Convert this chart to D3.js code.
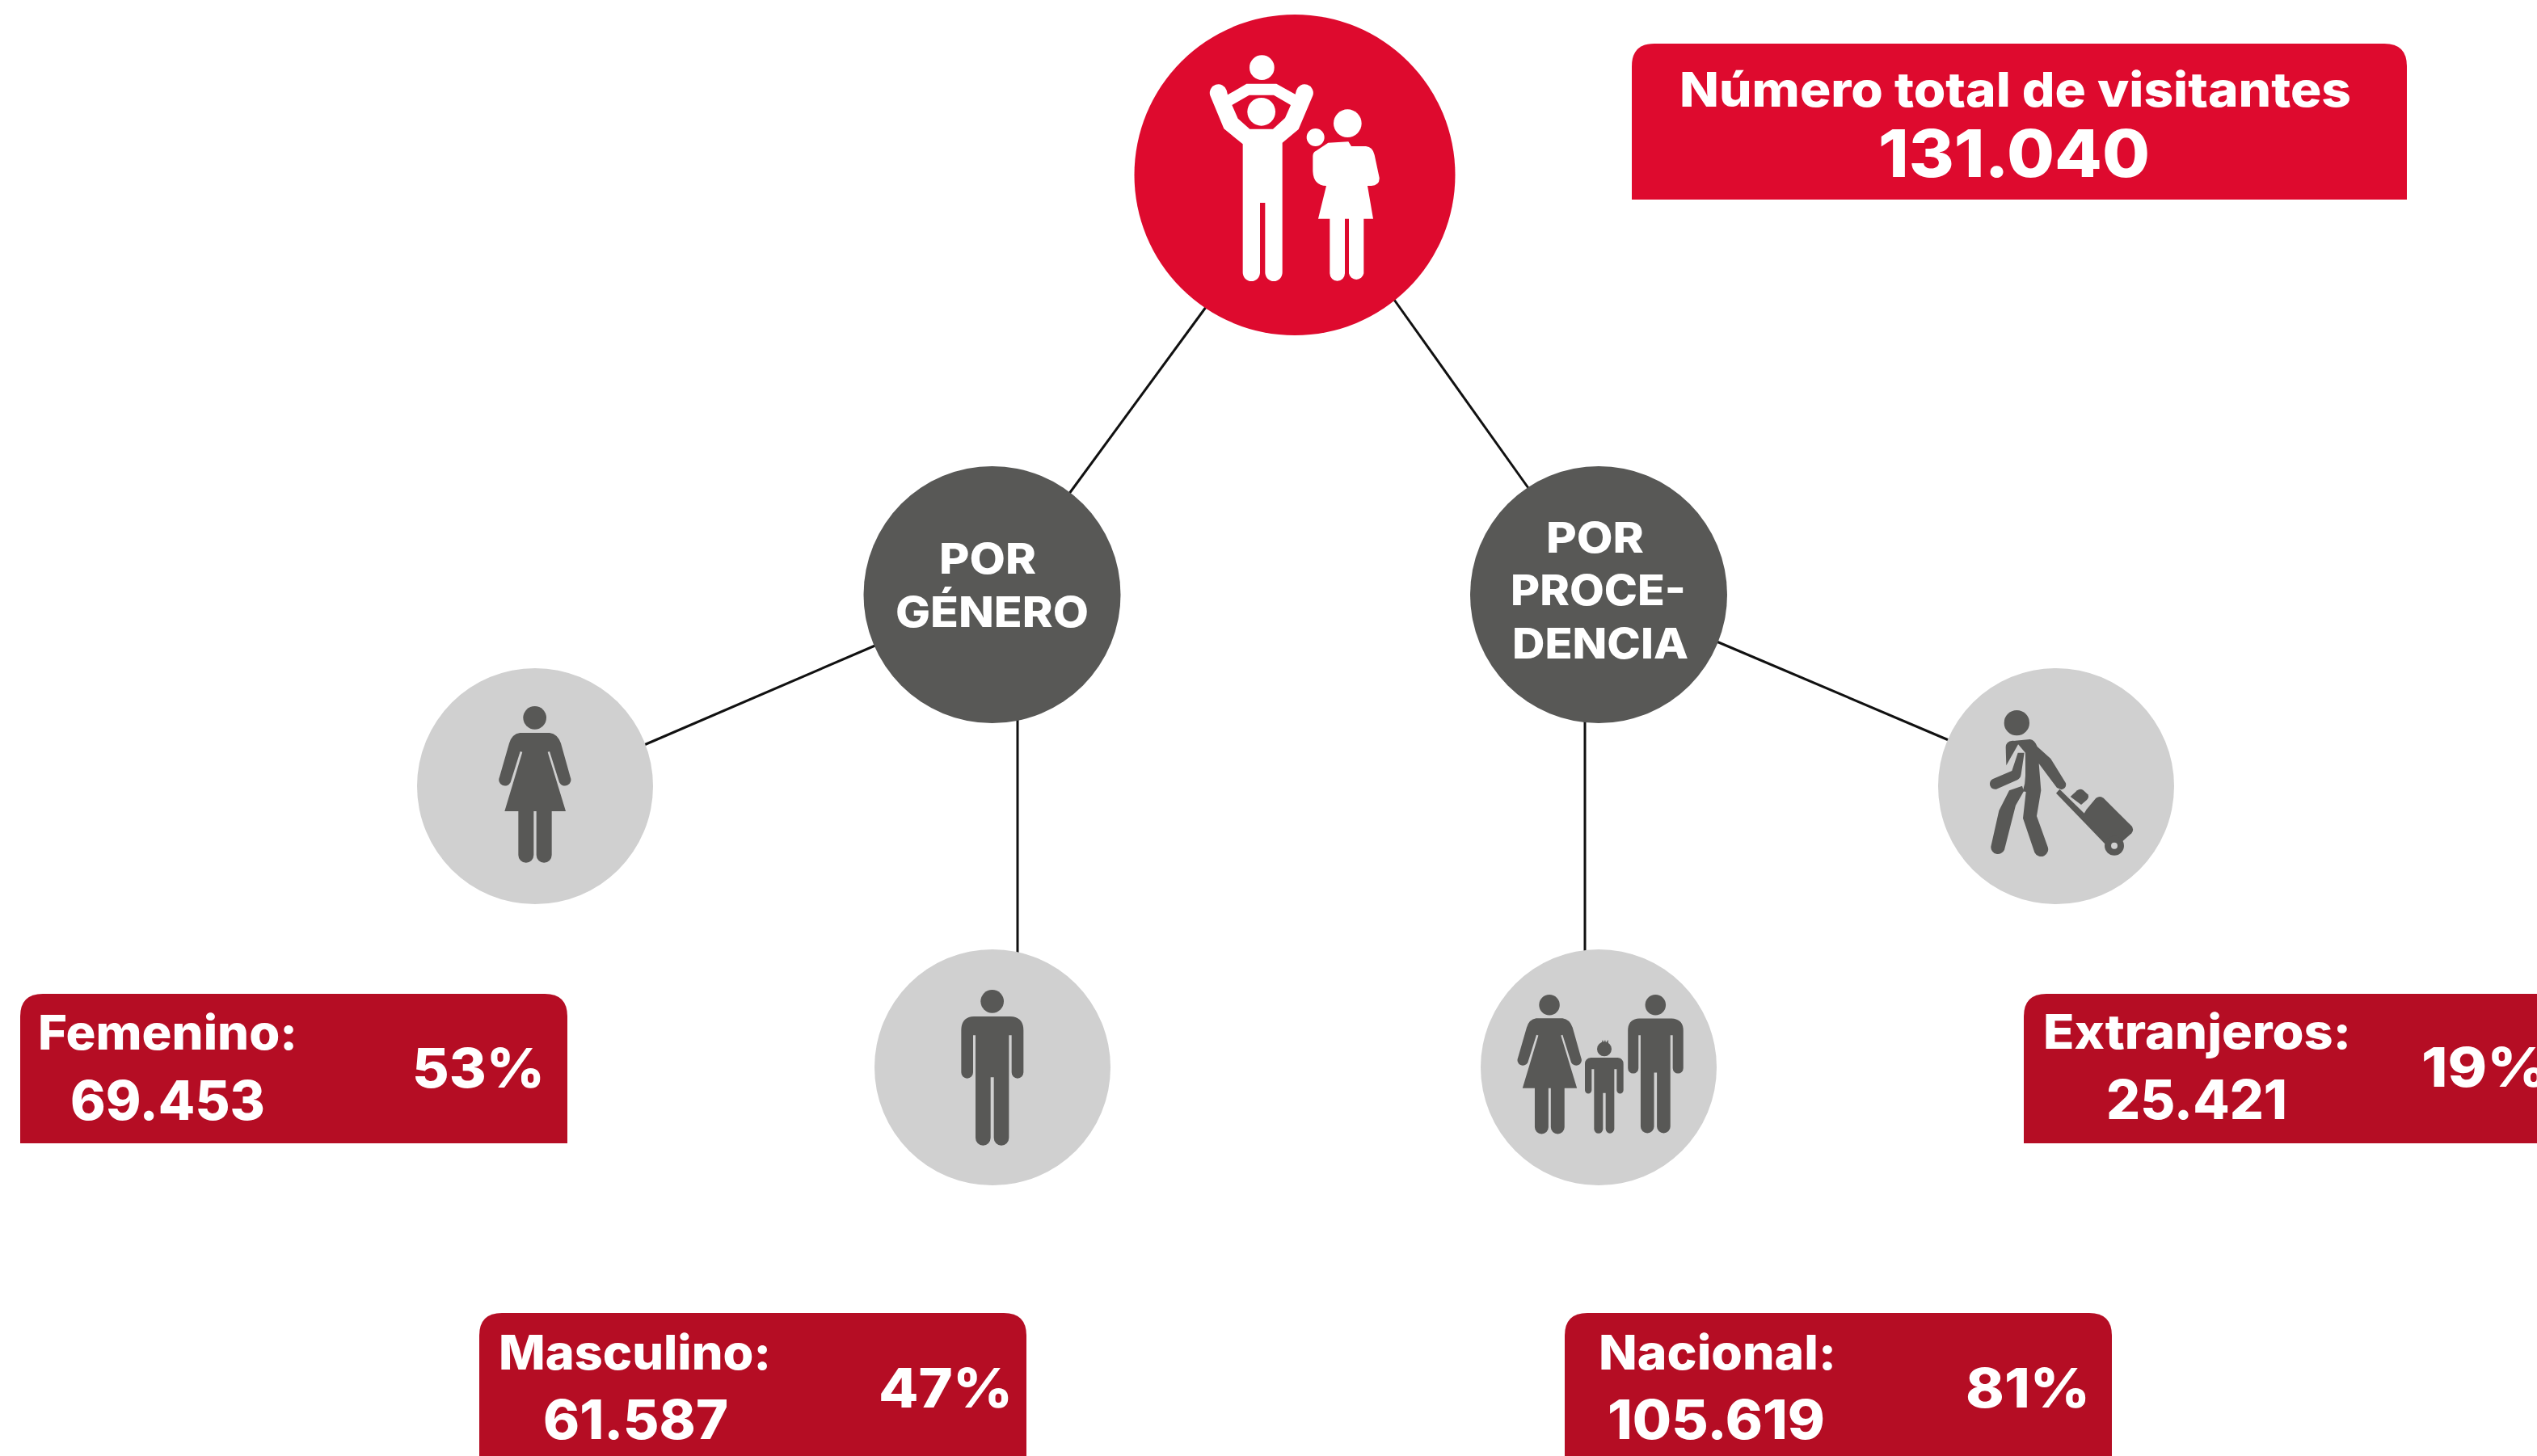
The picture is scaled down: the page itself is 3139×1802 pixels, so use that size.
<!DOCTYPE html>
<html>
<head>
<meta charset="utf-8">
<script src="https://cdn.jsdelivr.net/npm/d3@7"></script>
<style>
  html, body { margin: 0; padding: 0; background: #fff; overflow: hidden; }
  svg { display: block; }
  text { font-family: Inter, "Open Sans", sans-serif; font-weight: 800; fill: #fff; }
</style>
</head>
<body>
<svg class="svg-chart" width="3139" height="1802"></svg>
<script>
// values
const totalTitle = "Número total de visitantes";
const totalVisitors = 131040;
const branches = [["POR", "GÉNERO"], ["POR", "PROCE-", "DENCIA"]];
const categories = ["Femenino", "Masculino", "Nacional", "Extranjeros"];
const visitors = [69453, 61587, 105619, 25421];
const percents = [53, 47, 81, 19];

const esFormat = d3.formatLocale({ decimal: ",", thousands: ".", grouping: [3], currency: ["", "€"] }).format(",d");

const red = "#de0a2e", darkRed = "#b50d24", dark = "#585856", light = "#d0d0d0";

const W = 3139, H = 1802;
const svg = d3.select(".svg-chart").attr("viewBox", "0 0 " + W + " " + H);

// layout: node ids to centre positions
const nodeIds = ["top", "genero", "procedencia"].concat(categories);
const xNode = d3.scaleOrdinal(nodeIds, [1602, 1227.5, 1978, 662, 1228, 1978, 2544]);
const yNode = d3.scaleOrdinal(nodeIds, [216.5, 736, 736, 973, 1321, 1321, 973]);
const rNode = d3.scaleOrdinal(nodeIds, [198.5, 159, 159, 146, 146, 146, 146]);
const fillNode = d3.scaleOrdinal(nodeIds, [red, dark, dark, light, light, light, light]);

// connectors run slightly under the circles
const connectors = [
  [[1498, 372], [1317, 619]],
  [[1720, 364], [1896, 611]],
  [[1092, 795], [790, 925]],
  [[1259, 885], [1259, 1185]],
  [[1961, 885], [1961, 1185]],
  [[2117, 791], [2418, 919]]
];

svg.append("g")
  .selectAll("path")
  .data(connectors)
  .enter()
  .append("path")
  .attr("d", d3.line())
  .attr("stroke", "#111")
  .attr("stroke-width", 3)
  .attr("fill", "none");

svg.append("g")
  .selectAll("circle")
  .data(nodeIds)
  .enter()
  .append("circle")
  .attr("cx", (d) => xNode(d))
  .attr("cy", (d) => yNode(d))
  .attr("r", (d) => rNode(d))
  .attr("fill", (d) => fillNode(d));

// boxes with rounded top corners
function topRounded(x0, y0, x1, y1, r) {
  const p = d3.path();
  p.moveTo(x0, y1);
  p.lineTo(x0, y0 + r);
  p.quadraticCurveTo(x0, y0, x0 + r, y0);
  p.lineTo(x1 - r, y0);
  p.quadraticCurveTo(x1, y0, x1, y0 + r);
  p.lineTo(x1, y1);
  p.closePath();
  return p.toString();
}

const boxX0 = d3.scaleOrdinal(categories, [25, 593, 1936, 2504]);
const boxX1 = d3.scaleOrdinal(categories, [702, 1270, 2613, 3181]);
const boxY0 = d3.scaleOrdinal(categories, [1230, 1625, 1625, 1230]);
const boxY1 = d3.scaleOrdinal(categories, [1415, 1810, 1810, 1415]);

svg.append("path")
  .attr("d", topRounded(2019, 54, 2978, 247, 28))
  .attr("fill", red);

svg.append("g")
  .selectAll("path")
  .data(categories)
  .enter()
  .append("path")
  .attr("d", (d) => topRounded(boxX0(d), boxY0(d), boxX1(d), boxY1(d), 28))
  .attr("fill", darkRed);

// text helper: left edge, right edge, baseline, size (spans widened for side bearings)
function label(str, x0, x1, y, size) {
  svg.append("text")
    .attr("x", x0 - 3)
    .attr("y", y)
    .attr("font-size", size)
    .attr("textLength", x1 - x0 + 6)
    .attr("lengthAdjust", "spacingAndGlyphs")
    .text(str);
}

label(totalTitle, 2081, 2906, 132, 59);
label(esFormat(totalVisitors), 2327, 2657, 219, 81);

label(branches[0][0], 1165, 1279, 710, 52);
label(branches[0][1], 1111, 1344, 776, 52);
label(branches[1][0], 1916, 2031, 684, 52);
label(branches[1][1], 1872, 2083, 749, 52);
label(branches[1][2], 1874, 2086, 815, 52);

const nameSpan = [[50, 365, 1299], [620, 951, 1695], [1981, 2269, 1695], [2531, 2906, 1298]];
const countSpan = [[90, 325, 1386], [675, 898, 1781], [1992, 2255, 1781], [2609, 2827, 1385]];
const pctSpan = [[513, 671, 1346], [1090, 1250, 1742], [2435, 2583, 1742], [2999, 3150, 1345]];

categories.forEach((c, i) => {
  label(c + ":", nameSpan[i][0], nameSpan[i][1], nameSpan[i][2], 59);
  label(esFormat(visitors[i]), countSpan[i][0], countSpan[i][1], countSpan[i][2], 67);
  label(percents[i] + "%", pctSpan[i][0], pctSpan[i][1], pctSpan[i][2], 67);
});

// pictograms, drawn in 3x crop units and scaled back down
function icon(x, y, fill) {
  return svg.append("g")
    .attr("transform", "translate(" + x + "," + y + ") scale(" + 1 / 3 + ")")
    .attr("fill", fill);
}
function head(g, cx, cy, r) {
  g.append("circle").attr("cx", cx).attr("cy", cy).attr("r", r);
}

const womanBody = "M430,291 L540,291 Q570,295 582,330 L617,455 A22,22 0 0 1 576,475 L540,360 L533,362 L600,582 L548,582 L548,745 A28,28 0 0 1 491,745 L491,582 L481,582 L481,745 A28,28 0 0 1 424,745 L424,582 L373,582 L439,362 L431,360 L395,475 A22,22 0 0 1 354,455 L390,330 Q400,295 430,291 Z";
const manBody = "M405,294 L540,294 Q589,296 589,345 L589,502 A22,22 0 0 1 545,502 L545,364 L535,364 L535,745 A28,28 0 0 1 479,745 L479,520 L467,520 L467,745 A28,28 0 0 1 411,745 L411,364 L402,364 L402,502 A22,22 0 0 1 358,502 L358,345 Q358,296 405,294 Z";

// family on top
const gTop = icon(1380, 0, "#fff");
head(gTop, 544, 251, 46);
gTop.append("path")
  .attr("fill-rule", "evenodd")
  .attr("d", "M352,355 A32,32 0 0 1 413,335 L417,352 L487,311 L598,311 L668,350 L672,335 A32,32 0 0 1 733,355 L680,480 L620,530 L620,1012 A32,32 0 0 1 556,1012 L556,753 L537,753 L537,1012 A32,32 0 0 1 473,1012 L473,535 L403,478 Z M433,390 L497,353 L588,353 L651,390 L630,438 L585,479 L499,479 L455,440 Z");
head(gTop, 542, 415, 52);
head(gTop, 862, 458, 52);
head(gTop, 743, 510, 33);
gTop.append("path")
  .attr("d", "M790,530 L865,526 L876,543 L930,543 Q955,545 962,575 L980,660 Q982,688 950,690 L936,690 L957,812 L922,812 L922,1015 A28,28 0 0 1 867,1015 L867,812 L852,812 L852,1015 A28,28 0 0 1 796,1015 L796,812 L753,812 L783,690 Q735,688 733,635 L733,580 Q733,565 745,560 Z");

// Femenino
const gWoman = icon(500, 810, dark);
head(gWoman, 485, 235, 43);
gWoman.append("path").attr("d", womanBody);

// Masculino
const gMan = icon(1070, 1160, dark);
head(gMan, 473, 238, 43);
gMan.append("path").attr("d", manBody);

// Nacional
const gFam = icon(1820, 1160, dark);
const famWoman = gFam.append("g").attr("transform", "translate(-140.5,42) scale(0.89)");
head(famWoman, 485, 235, 43);
famWoman.append("path").attr("d", womanBody);
const famMan = gFam.append("g").attr("transform", "translate(264,39.5) scale(0.89)");
head(famMan, 473, 238, 43);
famMan.append("path").attr("d", manBody);
head(gFam, 495, 415, 27);
gFam.append("path").attr("d", "M484,395 L489,380 L493,392 L498,380 L501,392 L509,380 L510,400 Z");
gFam.append("path").attr("d", "M445,447 L545,447 Q566,450 566,470 L566,568 A12.5,12.5 0 0 1 541,568 L541,490 L532,490 L532,712 A16,16 0 0 1 500,712 L500,578 L490,578 L490,712 A16.5,16.5 0 0 1 457,712 L457,490 L448,490 L448,568 A12.5,12.5 0 0 1 423,568 L423,470 Q423,450 445,447 Z");

// Extranjeros
const gTrav = icon(2380, 810, dark);
head(gTrav, 346, 254, 47);
gTrav.append("path").attr("d", "M340,320 L395,315 Q412,316 422,342 L472,387 L528,478 Q532,495 512,502 L495,495 L428,405 L436,505 L420,600 L460,712 A26,26 0 0 1 412,735 L369,608 L380,510 L368,508 Q378,480 378,450 L378,365 Z");
gTrav.append("path").attr("d", "M305,345 Q305,322 330,320 L358,322 L307,412 Z");
gTrav.append("path").attr("d", "M328,432 L256,463 A20,20 0 0 0 270,500 L348,466 Q360,460 362,445 L374,365 L350,365 Z");
gTrav.append("path").attr("d", "M318,505 L366,488 L372,508 L342,560 L300,725 A26,26 0 0 1 250,713 L280,580 Z");
gTrav.append("path").attr("d", "M505,500 L690,682 L680,710 L492,515 Z");
gTrav.append("path").attr("d", "M570,505 Q580,497 592,503 L610,520 Q616,530 606,540 L585,558 L545,528 Z");
gTrav.append("path").attr("d", "M605,575 L640,533 Q655,523 668,533 L772,637 Q783,650 772,664 L735,697 L680,695 L590,600 Z");
head(gTrav, 708, 710, 36);
gTrav.append("circle").attr("cx", 708).attr("cy", 710).attr("r", 12).attr("fill", light);
</script>
</body>
</html>
